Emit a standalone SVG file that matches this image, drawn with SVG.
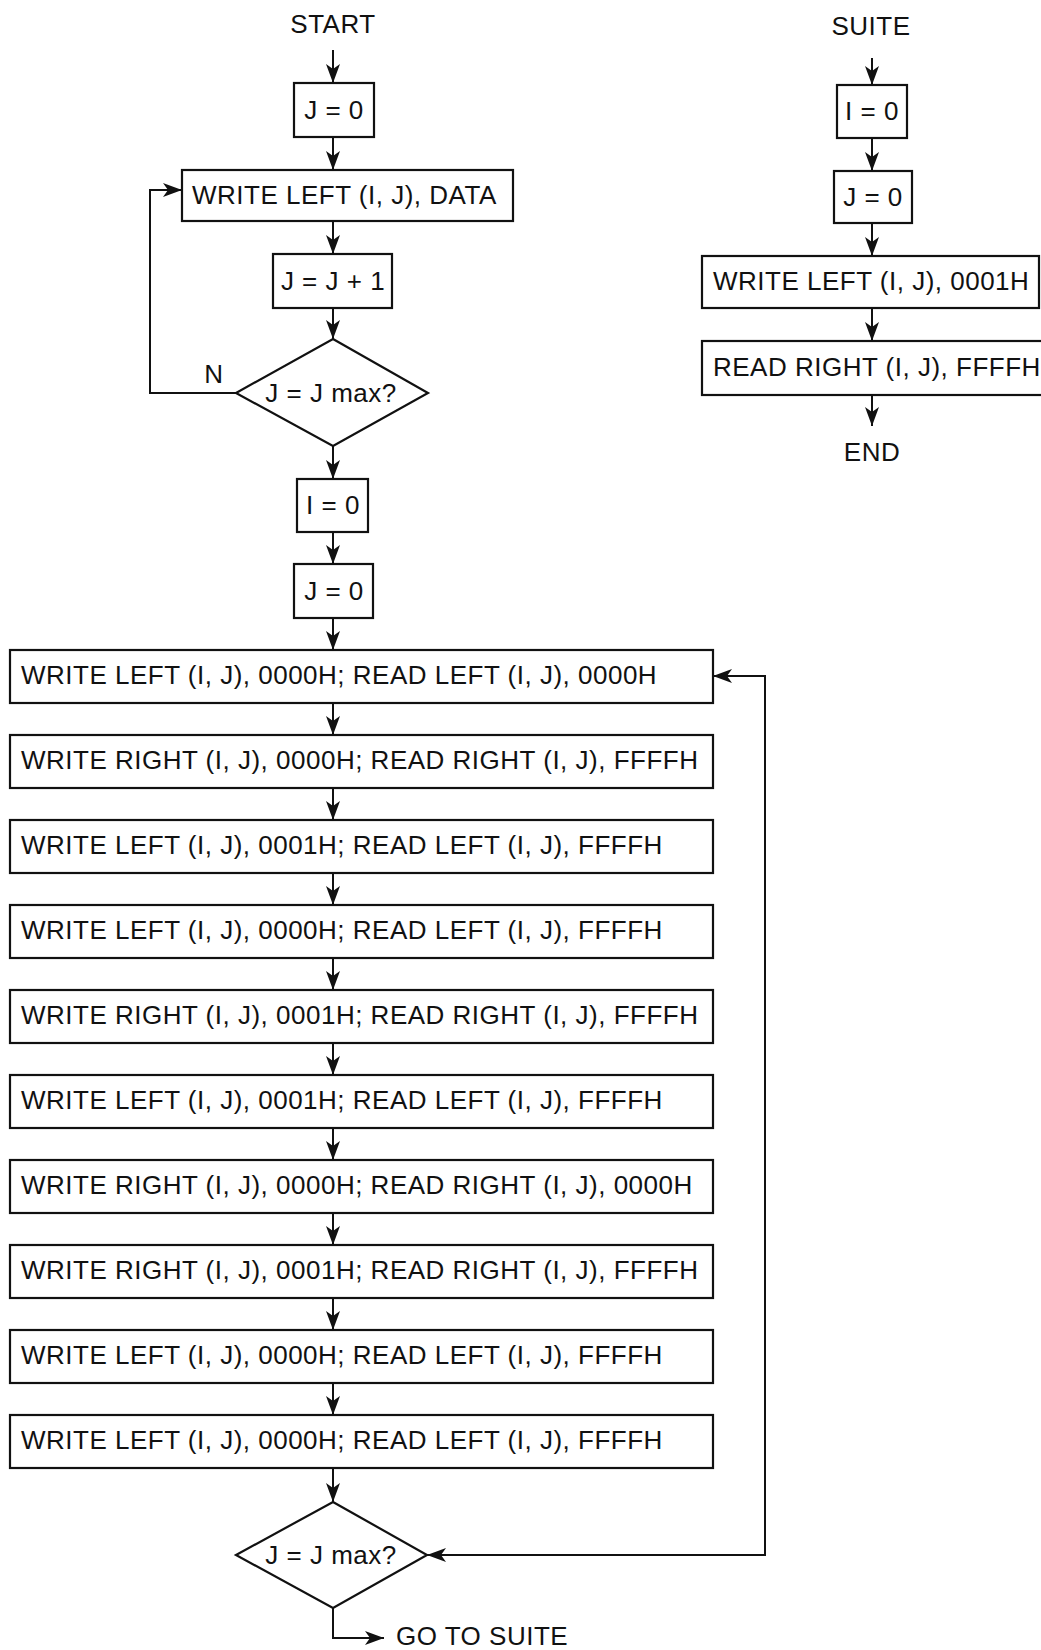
<svg xmlns="http://www.w3.org/2000/svg" width="1041" height="1650" viewBox="0 0 1041 1650">
  <style>
    .box { fill: #fff; stroke: #111; stroke-width: 2.2; }
    .lbl { font-family: "Liberation Sans", Arial, sans-serif; font-size: 26px; fill: #111; letter-spacing: 0.5px; }
    .mid { text-anchor: middle; }
    .wire { fill: none; stroke: #111; stroke-width: 2; }
  </style>
  <defs>
    <marker id="arrow" markerUnits="userSpaceOnUse" markerWidth="22" markerHeight="16" refX="19" refY="7" orient="auto-start-reverse">
      <path d="M0,0 L19,7 L0,14 L5,7 Z" fill="#111"/>
    </marker>
  </defs>
  <rect width="1041" height="1650" fill="#fff"/>

  <!-- connectors -->
  <g id="connectors" class="wire" marker-end="url(#arrow)">
    <!-- main routine -->
    <path d="M333,50 V83"/>
    <path d="M333,137 V170"/>
    <path d="M333,221 V254"/>
    <path d="M333,308 V339"/>
    <path d="M236,393 H150 V190 H182"/>
    <path d="M333,446 V479"/>
    <path d="M333,532 V564"/>
    <path d="M333,618 V650"/>
    <path d="M333,703 V735"/>
    <path d="M333,788 V820"/>
    <path d="M333,873 V905"/>
    <path d="M333,958 V990"/>
    <path d="M333,1043 V1075"/>
    <path d="M333,1128 V1160"/>
    <path d="M333,1213 V1245"/>
    <path d="M333,1298 V1330"/>
    <path d="M333,1383 V1415"/>
    <path d="M333,1468 V1502"/>
    <path d="M427,1555 H765 V676 H713" marker-start="url(#arrow)"/>
    <path d="M333,1608 V1638 H384"/>
    <!-- SUITE routine -->
    <path d="M872,58 V85"/>
    <path d="M872,138 V171"/>
    <path d="M872,223 V256"/>
    <path d="M872,308 V341"/>
    <path d="M872,395 V426"/>
  </g>

  <!-- main routine -->
  <g id="start"><text class="lbl mid" x="333" y="33">START</text></g>
  <g id="j0a"><rect class="box" x="294" y="83" width="80" height="54"/><text class="lbl mid" x="334" y="119">J = 0</text></g>
  <g id="writeData"><rect class="box" x="182" y="170" width="331" height="51"/><text class="lbl" x="192" y="204">WRITE LEFT (I, J), DATA</text></g>
  <g id="jinc"><rect class="box" x="273" y="254" width="119" height="54"/><text class="lbl mid" x="333" y="290">J = J + 1</text></g>
  <g id="test1">
    <polygon class="box" points="333,339 428,393 333,446 236,393"/>
    <text class="lbl mid" x="331" y="402" letter-spacing="0">J = J max?</text>
    <text class="lbl mid" x="214" y="383">N</text>
  </g>
  <g id="i0a"><rect class="box" x="297" y="479" width="71" height="53"/><text class="lbl mid" x="333" y="514">I = 0</text></g>
  <g id="j0b"><rect class="box" x="294" y="564" width="79" height="54"/><text class="lbl mid" x="334" y="600">J = 0</text></g>

  <g id="step1"><rect class="box" x="10" y="650" width="703" height="53"/><text class="lbl" x="21" y="684">WRITE LEFT (I, J), 0000H; READ LEFT (I, J), 0000H</text></g>
  <g id="step2"><rect class="box" x="10" y="735" width="703" height="53"/><text class="lbl" x="21" y="769">WRITE RIGHT (I, J), 0000H; READ RIGHT (I, J), FFFFH</text></g>
  <g id="step3"><rect class="box" x="10" y="820" width="703" height="53"/><text class="lbl" x="21" y="854">WRITE LEFT (I, J), 0001H; READ LEFT (I, J), FFFFH</text></g>
  <g id="step4"><rect class="box" x="10" y="905" width="703" height="53"/><text class="lbl" x="21" y="939">WRITE LEFT (I, J), 0000H; READ LEFT (I, J), FFFFH</text></g>
  <g id="step5"><rect class="box" x="10" y="990" width="703" height="53"/><text class="lbl" x="21" y="1024">WRITE RIGHT (I, J), 0001H; READ RIGHT (I, J), FFFFH</text></g>
  <g id="step6"><rect class="box" x="10" y="1075" width="703" height="53"/><text class="lbl" x="21" y="1109">WRITE LEFT (I, J), 0001H; READ LEFT (I, J), FFFFH</text></g>
  <g id="step7"><rect class="box" x="10" y="1160" width="703" height="53"/><text class="lbl" x="21" y="1194">WRITE RIGHT (I, J), 0000H; READ RIGHT (I, J), 0000H</text></g>
  <g id="step8"><rect class="box" x="10" y="1245" width="703" height="53"/><text class="lbl" x="21" y="1279">WRITE RIGHT (I, J), 0001H; READ RIGHT (I, J), FFFFH</text></g>
  <g id="step9"><rect class="box" x="10" y="1330" width="703" height="53"/><text class="lbl" x="21" y="1364">WRITE LEFT (I, J), 0000H; READ LEFT (I, J), FFFFH</text></g>
  <g id="step10"><rect class="box" x="10" y="1415" width="703" height="53"/><text class="lbl" x="21" y="1449">WRITE LEFT (I, J), 0000H; READ LEFT (I, J), FFFFH</text></g>

  <g id="test2">
    <polygon class="box" points="333,1502 427,1555 333,1608 236,1555"/>
    <text class="lbl mid" x="331" y="1564" letter-spacing="0">J = J max?</text>
  </g>
  <g id="gotoSuite"><text class="lbl" x="396" y="1645">GO TO SUITE</text></g>

  <!-- SUITE routine -->
  <g id="suite"><text class="lbl mid" x="871" y="35">SUITE</text></g>
  <g id="i0s"><rect class="box" x="837" y="85" width="70" height="53"/><text class="lbl mid" x="872" y="120">I = 0</text></g>
  <g id="j0s"><rect class="box" x="834" y="171" width="78" height="52"/><text class="lbl mid" x="873" y="206">J = 0</text></g>
  <g id="writeS"><rect class="box" x="702" y="256" width="337" height="52"/><text class="lbl" x="713" y="290">WRITE LEFT (I, J), 0001H</text></g>
  <g id="readS"><rect class="box" x="702" y="341" width="345" height="54"/><text class="lbl" x="713" y="376">READ RIGHT (I, J), FFFFH</text></g>
  <g id="end"><text class="lbl mid" x="872" y="461">END</text></g>
</svg>
